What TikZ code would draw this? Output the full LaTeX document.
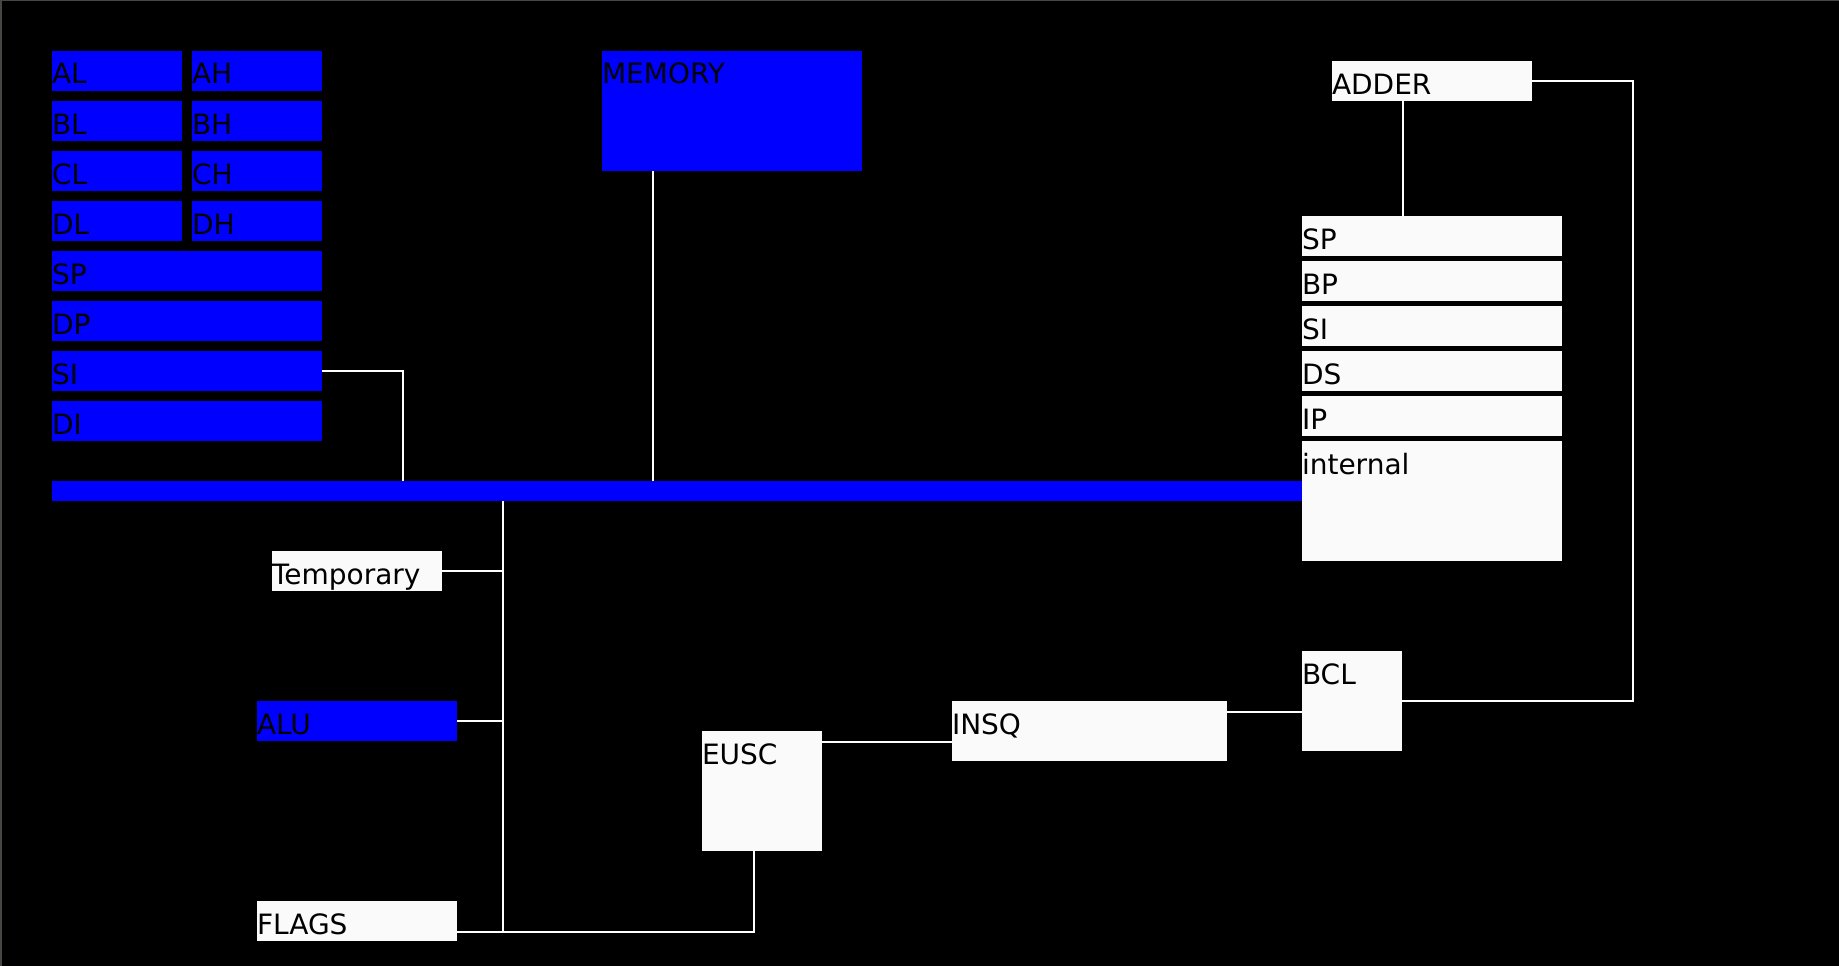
\documentclass[tikz,border=0pt]{standalone}
\usepackage{fontspec}
\setmainfont{DejaVu Sans}
\usetikzlibrary{calc}
\definecolor{busblue}{RGB}{0,0,255}
\definecolor{boxwhite}{RGB}{250,250,250}
\definecolor{edgegray}{RGB}{70,70,66}
\begin{document}
\begin{tikzpicture}[x=1pt,y=-1pt,
  blk/.style={anchor=north west, inner sep=0pt, outer sep=0pt, align=left,
    text height=33pt, font=\fontsize{28}{30}\selectfont, text=black},
  bluebox/.style={blk, fill=busblue},
  whitebox/.style={blk, fill=boxwhite},
  conn/.style={draw=white, line width=1.6pt},
]
\fill[black] (0,0) rectangle (1839,966);
\useasboundingbox (0,0) rectangle (1839,966);
\draw[edgegray, line width=2pt] (1,0) -- (1,966);
\draw[edgegray, line width=1pt] (0,0.5) -- (1839,0.5);

% left register file
\node[bluebox, text width=130pt, text depth=7pt] (al) at (52,51) {AL};
\node[bluebox, text width=130pt, text depth=7pt] (ah) at (192,51) {AH};
\node[bluebox, text width=130pt, text depth=7pt] (bl) at (52,101) {BL};
\node[bluebox, text width=130pt, text depth=7pt] (bh) at (192,101) {BH};
\node[bluebox, text width=130pt, text depth=7pt] (cl) at (52,151) {CL};
\node[bluebox, text width=130pt, text depth=7pt] (ch) at (192,151) {CH};
\node[bluebox, text width=130pt, text depth=7pt] (dl) at (52,201) {DL};
\node[bluebox, text width=130pt, text depth=7pt] (dh) at (192,201) {DH};
\node[bluebox, text width=270pt, text depth=7pt] (sp) at (52,251) {SP};
\node[bluebox, text width=270pt, text depth=7pt] (dp) at (52,301) {DP};
\node[bluebox, text width=270pt, text depth=7pt] (si) at (52,351) {SI};
\node[bluebox, text width=270pt, text depth=7pt] (di) at (52,401) {DI};

% memory and bus
\node[bluebox, text width=260pt, text depth=87pt] (mem) at (602,51) {MEMORY};
\node[bluebox, text width=1250pt, text height=20pt, text depth=0pt] (bus) at (52,481) {};

% right side
\node[whitebox, text width=200pt, text depth=7pt] (adder) at (1332,61) {ADDER};
\node[whitebox, text width=260pt, text depth=7pt] (rsp) at (1302,216) {SP};
\node[whitebox, text width=260pt, text depth=7pt] (rbp) at (1302,261) {BP};
\node[whitebox, text width=260pt, text depth=7pt] (rsi) at (1302,306) {SI};
\node[whitebox, text width=260pt, text depth=7pt] (rds) at (1302,351) {DS};
\node[whitebox, text width=260pt, text depth=7pt] (rip) at (1302,396) {IP};
\node[whitebox, text width=260pt, text depth=87pt] (internal) at (1302,441) {internal};

% lower part
\node[whitebox, text width=170pt, text depth=7pt] (temp) at (272,551) {Temporary};
\node[bluebox, text width=200pt, text depth=7pt] (alu) at (257,701) {ALU};
\node[whitebox, text width=200pt, text depth=7pt] (flags) at (257,901) {FLAGS};
\node[whitebox, text width=120pt, text depth=87pt] (eusc) at (702,731) {EUSC};
\node[whitebox, text width=275pt, text depth=27pt] (insq) at (952,701) {INSQ};
\node[whitebox, text width=100pt, text depth=67pt] (bcl) at (1302,651) {BCL};

% connectors
\coordinate (sidrop) at (403,481);
\draw[conn] (si.east) -| (sidrop);
\coordinate (memdrop) at ([xshift=51pt]mem.south west);
\draw[conn] (memdrop) -- (memdrop |- bus.north);
\coordinate (addrop) at ([xshift=71pt]adder.south west);
\draw[conn] (addrop) -- (addrop |- rsp.north);
\coordinate (loopx) at (1633,400);
\draw[conn] (adder.east) -- (adder.east -| loopx) -- (bcl.east -| loopx) -- (bcl.east);
\coordinate (ib) at ([yshift=-11pt]insq.north east);
\draw[conn] (ib) -- (ib -| bcl.west);
\coordinate (ei) at ([yshift=-11pt]eusc.north east);
\draw[conn] (ei) -- (ei -| insq.west);
\coordinate (ef) at ([xshift=52pt]eusc.south west);
\coordinate (fl) at ([yshift=-31pt]flags.north east);
\draw[conn] (ef) |- (fl);
\coordinate (tk) at (503,931);
\draw[conn] (tk |- bus.south) -- (tk |- fl);
\draw[conn] (temp.east) -- (temp.east -| tk);
\draw[conn] (alu.east) -- (alu.east -| tk);
\end{tikzpicture}
\end{document}
